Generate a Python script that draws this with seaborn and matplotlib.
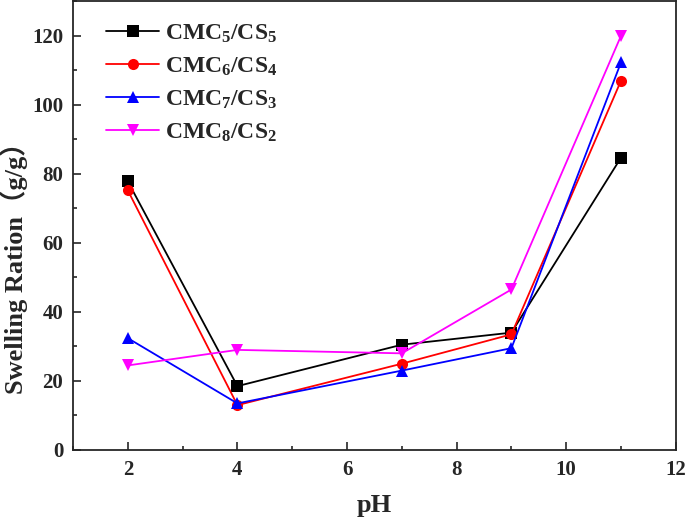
import pandas as pd
import matplotlib
matplotlib.use('Agg')
import matplotlib.pyplot as plt
import seaborn as sns
from matplotlib.ticker import MultipleLocator

# Dados
ph = [2, 4, 7, 9, 11]
cmc5_cs5 = [77.8, 18.5, 30.5, 34.0, 84.7]
cmc6_cs4 = [75.2, 13.0, 25.0, 33.5, 107.0]
cmc7_cs3 = [32.4, 13.5, 23.0, 29.5, 112.3]
cmc8_cs2 = [24.5, 29.0, 28.0, 46.5, 120.0]
labels = [r'CMC$_5$/CS$_5$', r'CMC$_6$/CS$_4$', r'CMC$_7$/CS$_3$', r'CMC$_8$/CS$_2$']

series = [cmc5_cs5, cmc6_cs4, cmc7_cs3, cmc8_cs2]
frames = []
for lab, vals in zip(labels, series):
    frames.append(pd.DataFrame({'pH': ph, 'Swelling': vals, 'Amostra': lab}))
data = pd.concat(frames)

sns.set_style("ticks")
plt.rcParams['font.family'] = ['Liberation Serif', 'Noto Sans CJK SC']
plt.rcParams['font.weight'] = 'bold'
plt.rcParams['mathtext.fontset'] = 'custom'
plt.rcParams['mathtext.rm'] = 'Liberation Serif:bold'
plt.rcParams['mathtext.it'] = 'Liberation Serif:bold'
plt.rcParams['mathtext.bf'] = 'Liberation Serif:bold'
plt.rcParams['mathtext.default'] = 'rm'

palette = dict(zip(labels, ['black', 'red', 'blue', 'magenta']))
markers = dict(zip(labels, ['s', 'o', '^', 'v']))

fig = plt.figure(figsize=(6.85, 5.17), dpi=100)
ax = fig.add_axes([0.1066, 0.1296, 0.880, 0.868])
sns.lineplot(data=data, x='pH', y='Swelling', hue='Amostra', style='Amostra',
             palette=palette, markers=markers, dashes=False, markersize=8,
             markeredgewidth=0, linewidth=1.3, ax=ax)

ax.set_xlim(1, 12)
ax.set_ylim(0, 130)
ax.xaxis.set_major_locator(MultipleLocator(2))
ax.xaxis.set_minor_locator(MultipleLocator(1))
ax.yaxis.set_major_locator(MultipleLocator(20))
ax.yaxis.set_minor_locator(MultipleLocator(10))
ax.tick_params(which='both', direction='in', top=False, right=False, width=1.2)
ax.tick_params(which='major', length=6, labelsize=15, pad=7)
ax.tick_params(which='minor', length=3)
for s in ax.spines.values():
    s.set_visible(True)
    s.set_linewidth(1.3)
for t in ax.get_xticklabels() + ax.get_yticklabels():
    t.set_fontweight('bold')

ax.set_xlabel('pH', fontsize=19, fontweight='bold', labelpad=10)
ax.set_ylabel('Swelling Ration（g/g）', fontsize=19, fontweight='bold', labelpad=3,
              y=0.42, ha='center')

leg = ax.legend(title=None, loc='upper left', bbox_to_anchor=(0.02, 1.0), frameon=False,
                handlelength=2.25, handletextpad=0.25, labelspacing=0.45,
                prop={'weight': 'bold', 'size': 17})
for h in leg.legend_handles:
    h.set_markersize(8)
    h.set_linewidth(1.3)

fig.savefig('out.png', dpi=100)
